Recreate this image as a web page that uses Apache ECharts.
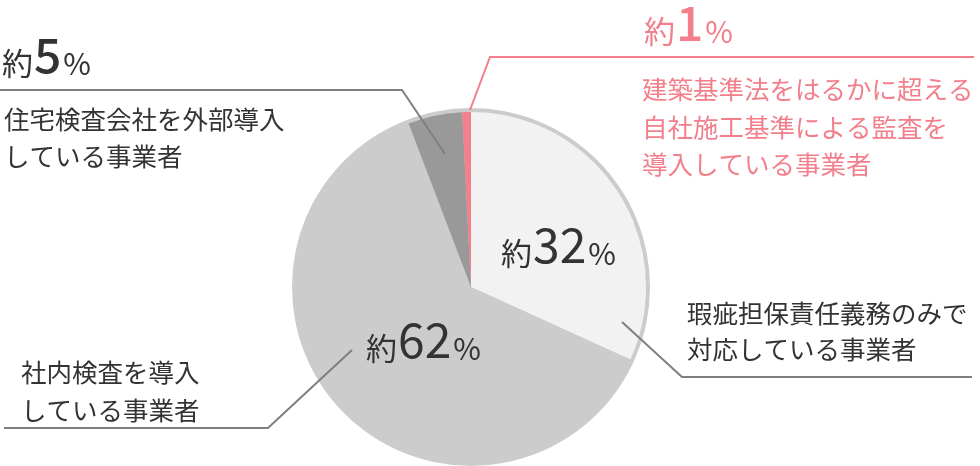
<!DOCTYPE html>
<html>
<head>
<meta charset="utf-8">
<script src="https://cdn.jsdelivr.net/npm/echarts@6/dist/echarts.min.js"></script>
<style>
  html, body { margin: 0; padding: 0; background: #fff; }
  #chart { width: 980px; height: 466px; }
</style>
</head>
<body>
<div id="chart"></div>
<script>
// 時計回り、12時の位置から
var categories = [
  "瑕疵担保責任義務のみで対応している事業者",
  "社内検査を導入している事業者",
  "住宅検査会社を外部導入している事業者",
  "建築基準法をはるかに超える自社施工基準による監査を導入している事業者"
];
var values = [31.8, 62.4, 5.0, 0.8];
var pctLabels = ["32", "62", "5", "1"];
var descLines = [
  ["瑕疵担保責任義務のみで", "対応している事業者"],
  ["社内検査を導入", "している事業者"],
  ["住宅検査会社を外部導入", "している事業者"],
  ["建築基準法をはるかに超える", "自社施工基準による監査を", "導入している事業者"]
];
var colors = ["#f2f2f2", "#cccccc", "#999999", "#f27f8b"];

var FONT = '"Noto Sans CJK JP", "Noto Sans", sans-serif';
var center = [471, 287];

// ラベル位置（注記）
var pctPos = [[501, 269], [366, 364], [2, 79], [644, 47]];
var descPos = [[687, 295, 36], [21, 353, 38], [4, 101, 37], [642, 71, 37.5]];
var leaders = [
  [[622, 322], [682, 377], [972, 377]],
  [[352, 350], [268, 428], [4, 428]],
  [[445, 154], [402, 90], [0, 90]],
  [[470, 110], [490, 57], [974, 57]]
];

function textColor(i) {
  return i === 3 ? "#f27f8b" : "#333333";
}
function lineColor(i) {
  return i === 3 ? "#f27f8b" : "#7f7f7f";
}

var graphics = [];
pctLabels.forEach(function (p, i) {
  var c = textColor(i);
  var bold = i >= 2 ? 500 : 400;
  graphics.push({
    type: "text",
    x: pctPos[i][0],
    y: pctPos[i][1],
    z: 10,
    style: {
      text: "{a|約}{b|" + p + "}{c|%}",
      verticalAlign: "bottom",
      align: "left",
      rich: {
        a: { fontSize: 31, lineHeight: 31, fontFamily: FONT, fill: c, verticalAlign: "bottom" },
        b: { fontSize: 48, lineHeight: 48, fontFamily: FONT, fill: c, fontWeight: bold, verticalAlign: "bottom", padding: [0, 2, 0, 1] },
        c: { fontSize: 30, lineHeight: 30, fontFamily: FONT, fill: c, verticalAlign: "bottom" }
      }
    }
  });
  graphics.push({
    type: "text",
    x: descPos[i][0],
    y: descPos[i][1],
    z: 10,
    style: {
      text: descLines[i].join("\n"),
      fill: c,
      font: "25.5px " + FONT,
      lineHeight: descPos[i][2],
      verticalAlign: "top",
      align: "left"
    }
  });
  graphics.push({
    type: "polyline",
    z: 9,
    shape: { points: leaders[i] },
    style: { stroke: lineColor(i), lineWidth: 2, fill: null }
  });
});

var chart = echarts.init(document.getElementById("chart"));
var option = {
  backgroundColor: "#ffffff",
  animation: false,
  series: [
    {
      type: "pie",
      silent: true,
      center: center,
      radius: 179,
      label: { show: false },
      labelLine: { show: false },
      itemStyle: { color: "#cccccc" },
      data: [{ name: "ring", value: 1 }],
      z: 1
    },
    {
      type: "pie",
      silent: true,
      center: center,
      radius: 175,
      startAngle: 90,
      clockwise: true,
      label: { show: false },
      labelLine: { show: false },
      itemStyle: { borderWidth: 0 },
      data: categories.map(function (name, i) {
        return { name: name, value: values[i], itemStyle: { color: colors[i] } };
      }),
      z: 2
    }
  ],
  graphic: graphics
};
chart.setOption(option);
</script>
</body>
</html>
